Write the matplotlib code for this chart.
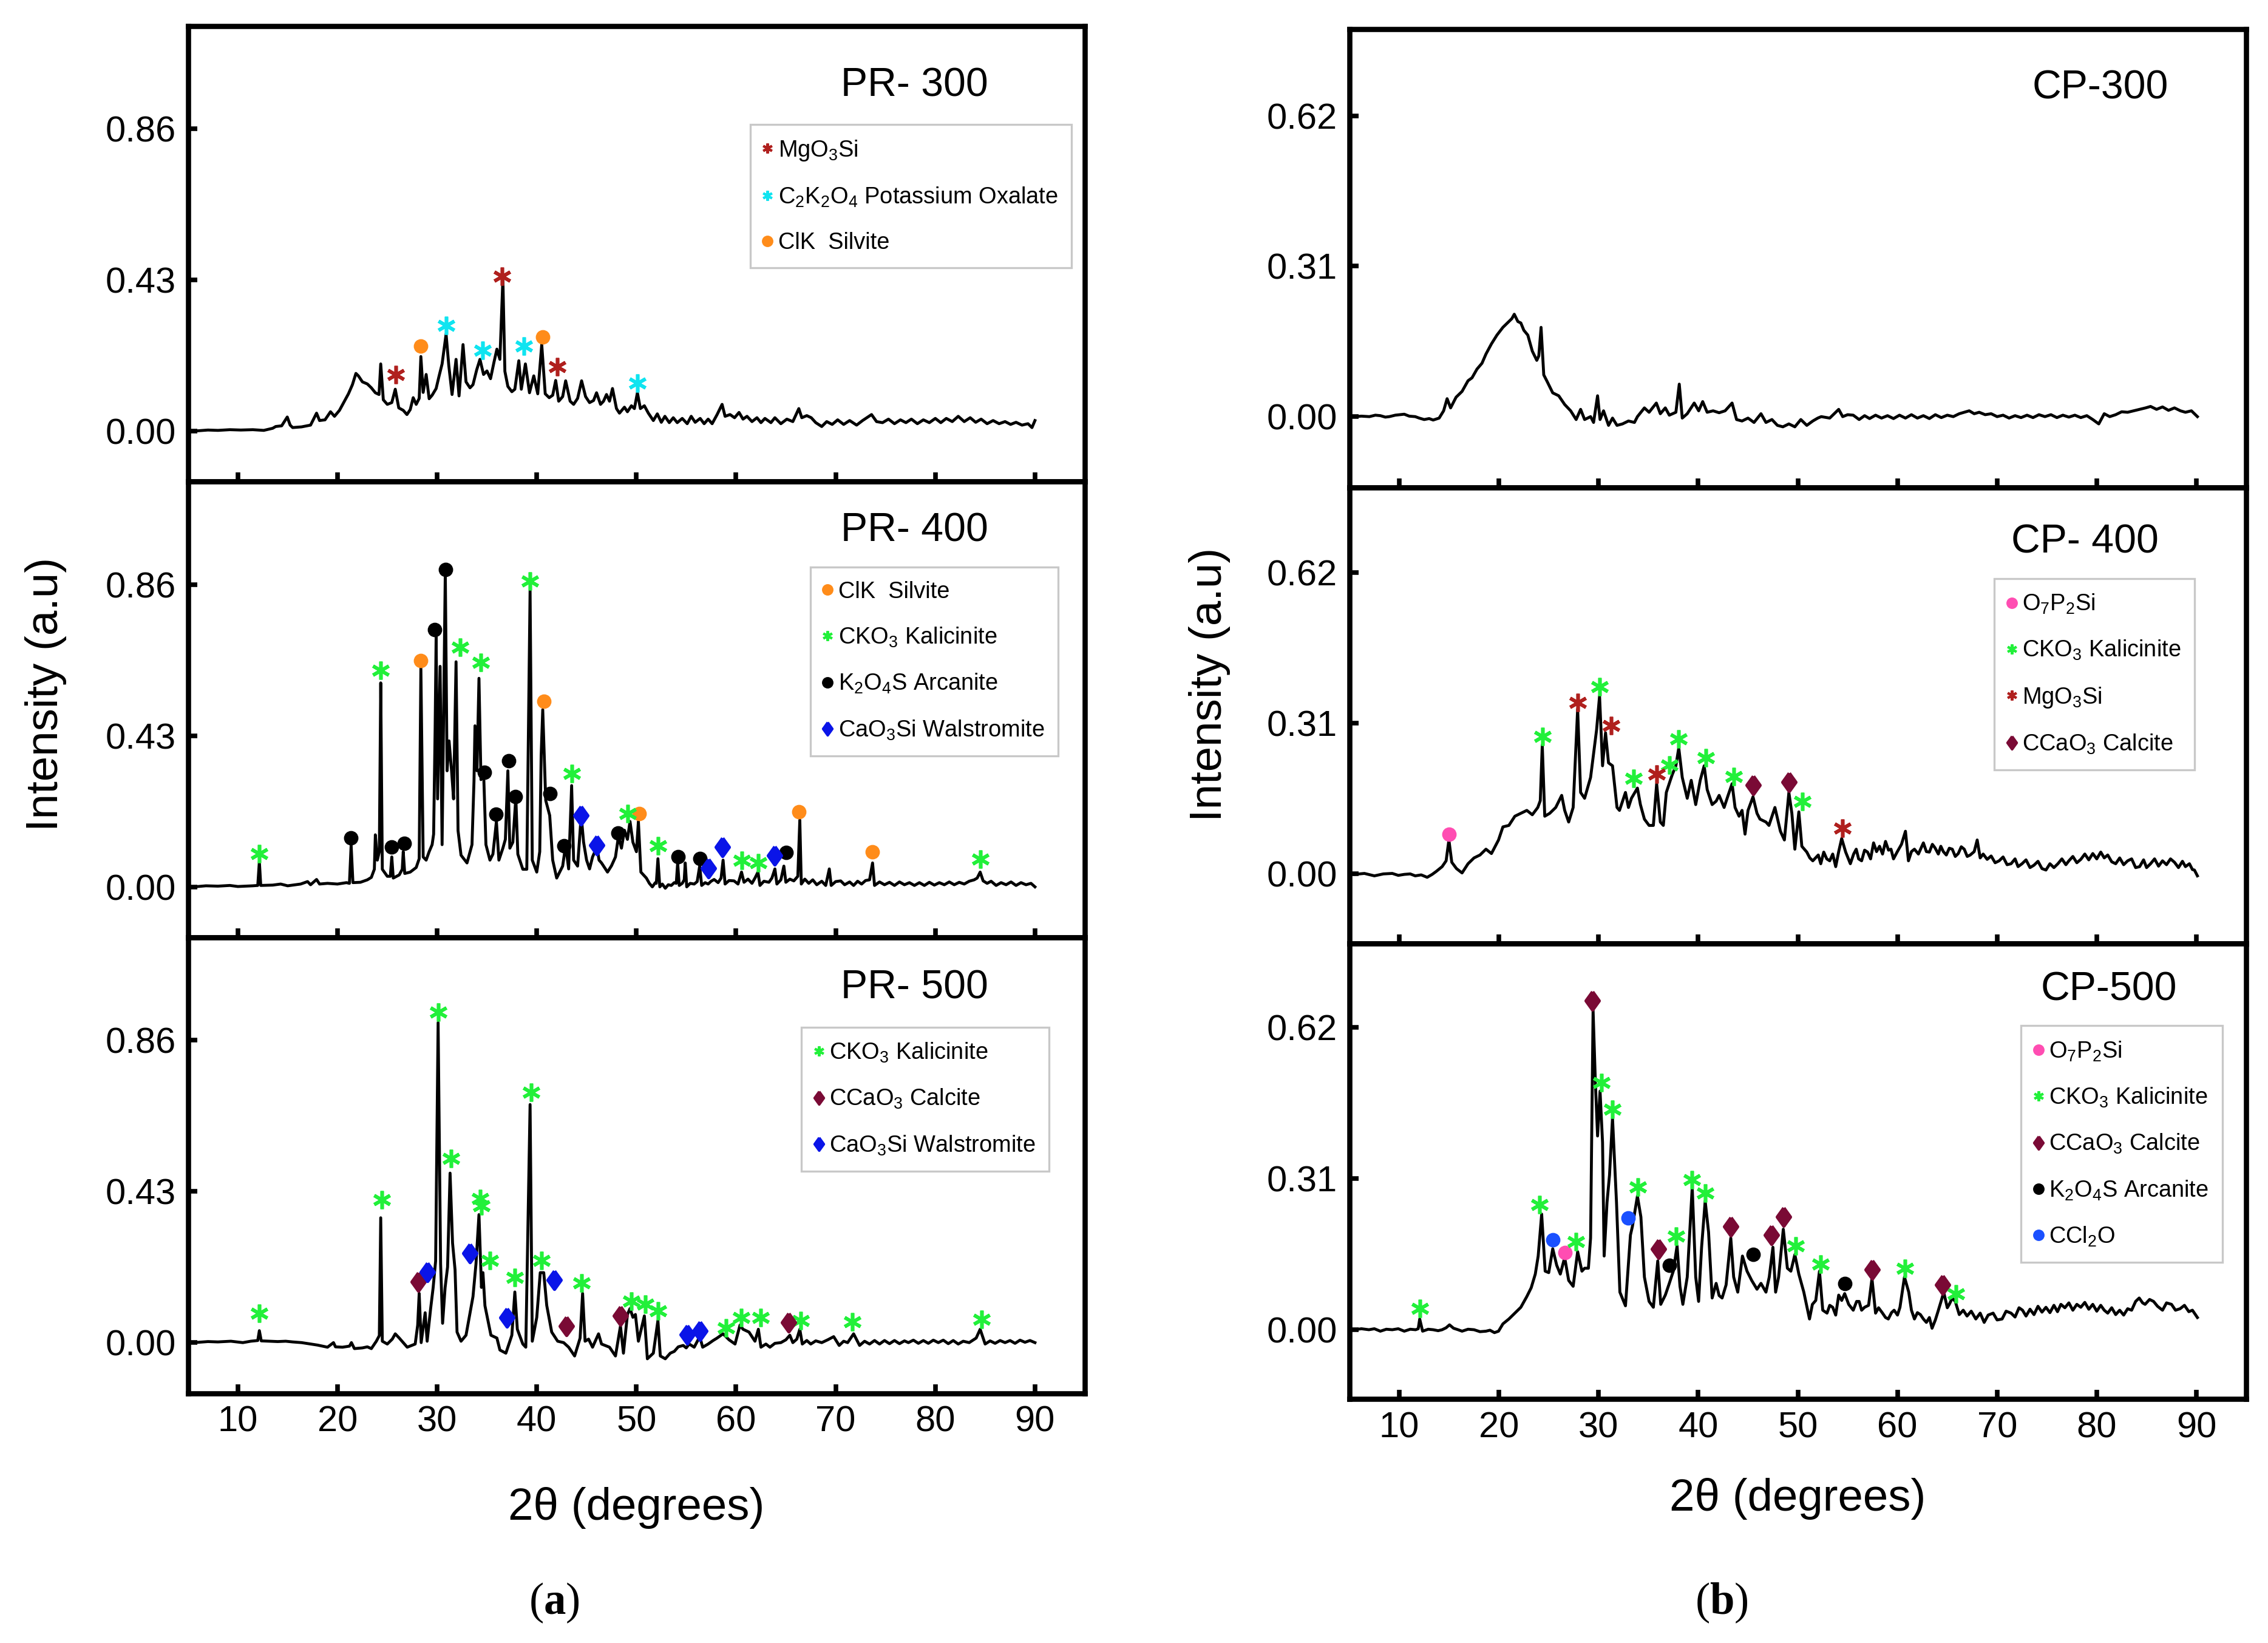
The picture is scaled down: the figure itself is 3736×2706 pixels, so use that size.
import matplotlib
matplotlib.use('Agg')
import matplotlib.pyplot as plt
from matplotlib.lines import Line2D

plt.rcParams['font.family'] = ['Liberation Sans', 'DejaVu Sans']
plt.rcParams['mathtext.fontset'] = 'custom'
plt.rcParams['mathtext.rm'] = 'Liberation Sans'
plt.rcParams['mathtext.it'] = 'Liberation Sans:italic'
plt.rcParams['mathtext.bf'] = 'Liberation Serif:bold'

# ---------------- data (2theta, intensity) ----------------
PR300 = [(5.6, 0.000), (7.0, 0.003), (8.0, 0.002), (9.2, 0.004), (10.3, 0.003), (11.5, 0.004), (12.6, 0.002),
         (13.5, 0.008), (13.8, 0.013), (14.4, 0.015), (14.96, 0.040), (15.25, 0.017), (15.5, 0.010), (16.4, 0.012),
         (17.3, 0.017), (17.9, 0.051), (18.2, 0.030), (18.75, 0.032), (19.3, 0.055), (19.7, 0.042), (20.2, 0.059),
         (20.7, 0.085), (21.1, 0.106), (21.5, 0.132), (21.85, 0.164), (22.1, 0.157), (22.5, 0.140), (23.0, 0.134),
         (23.4, 0.123), (23.8, 0.109), (24.17, 0.104), (24.34, 0.191), (24.6, 0.089), (25.0, 0.076), (25.45, 0.081),
         (25.8, 0.119), (26.15, 0.066), (26.6, 0.059), (26.97, 0.047), (27.3, 0.061), (27.6, 0.095), (27.9, 0.076),
         (28.2, 0.093), (28.37, 0.212), (28.6, 0.110), (28.9, 0.161), (29.2, 0.092), (29.5, 0.102), (29.9, 0.121),
         (30.2, 0.157), (30.5, 0.191), (30.9, 0.276), (31.17, 0.187), (31.5, 0.104), (31.9, 0.204), (32.2, 0.100),
         (32.6, 0.246), (32.9, 0.140), (33.3, 0.123), (33.6, 0.132), (33.97, 0.174), (34.3, 0.204), (34.66, 0.161),
         (35.0, 0.171), (35.36, 0.149), (35.7, 0.195), (36.0, 0.233), (36.3, 0.204), (36.6, 0.433), (36.8, 0.170),
         (37.1, 0.127), (37.5, 0.112), (37.8, 0.119), (38.2, 0.200), (38.45, 0.119), (38.86, 0.191), (39.27, 0.109),
         (39.7, 0.157), (40.1, 0.106), (40.5, 0.246), (40.85, 0.106), (41.25, 0.095), (41.6, 0.102), (41.9, 0.144),
         (42.2, 0.085), (42.6, 0.098), (42.9, 0.143), (43.35, 0.085), (43.7, 0.076), (44.1, 0.093), (44.5, 0.143),
         (44.9, 0.098), (45.3, 0.081), (45.7, 0.087), (46.0, 0.109), (46.4, 0.076), (46.7, 0.085), (47.0, 0.104),
         (47.3, 0.085), (47.6, 0.121), (48.0, 0.064), (48.3, 0.051), (48.8, 0.068), (49.1, 0.055), (49.5, 0.072),
         (49.8, 0.064), (50.1, 0.109), (50.4, 0.064), (50.8, 0.072), (51.2, 0.051), (51.7, 0.030), (52.1, 0.049),
         (52.5, 0.025), (52.86, 0.042), (53.3, 0.024), (53.7, 0.038), (54.1, 0.024), (54.6, 0.036), (55.1, 0.021),
         (55.5, 0.042), (55.9, 0.025), (56.4, 0.036), (56.8, 0.021), (57.2, 0.034), (57.6, 0.021), (58.1, 0.047),
         (58.6, 0.076), (58.9, 0.042), (59.4, 0.047), (59.85, 0.038), (60.3, 0.053), (60.7, 0.034), (61.1, 0.042),
         (61.6, 0.027), (62.1, 0.038), (62.5, 0.024), (62.9, 0.036), (63.5, 0.024), (63.9, 0.038), (64.5, 0.021),
         (65.1, 0.034), (65.7, 0.027), (66.3, 0.064), (66.6, 0.038), (67.1, 0.044), (67.55, 0.038), (68.0, 0.024),
         (68.6, 0.013), (69.1, 0.027), (69.65, 0.019), (70.2, 0.032), (70.8, 0.019), (71.4, 0.030), (72.1, 0.017),
         (72.7, 0.030), (73.6, 0.047), (74.1, 0.027), (74.7, 0.024), (75.3, 0.034), (75.9, 0.021), (76.5, 0.032),
         (77.05, 0.024), (77.6, 0.034), (78.2, 0.021), (78.8, 0.032), (79.4, 0.024), (80.0, 0.036), (80.55, 0.024),
         (81.1, 0.036), (81.7, 0.027), (82.3, 0.042), (82.9, 0.027), (83.5, 0.038), (84.05, 0.025), (84.6, 0.034),
         (85.2, 0.021), (85.8, 0.030), (86.4, 0.021), (87.0, 0.027), (87.55, 0.019), (88.1, 0.025), (88.7, 0.017),
         (89.3, 0.021), (89.7, 0.010), (90.0, 0.030)]

PR400 = [(5.6, 0.000), (6.8, 0.003), (8.0, 0.002), (9.2, 0.004), (10.0, 0.001), (11.5, 0.003), (12.0, 0.004),
         (12.16, 0.072), (12.3, 0.004), (13.5, 0.005), (14.3, 0.008), (15.0, 0.003), (16.3, 0.008), (17.0, 0.015),
         (17.3, 0.006), (17.9, 0.021), (18.2, 0.008), (19.0, 0.010), (20.0, 0.008), (20.9, 0.012), (21.2, 0.010),
         (21.37, 0.119), (21.55, 0.012), (22.3, 0.013), (23.0, 0.020), (23.4, 0.027), (23.7, 0.050), (23.8, 0.148),
         (24.0, 0.076), (24.2, 0.100), (24.34, 0.580), (24.5, 0.050), (25.0, 0.030), (25.3, 0.030), (25.45, 0.085),
         (25.6, 0.025), (26.2, 0.034), (26.5, 0.050), (26.6, 0.100), (26.75, 0.038), (27.3, 0.042), (27.9, 0.055),
         (28.2, 0.080), (28.37, 0.623), (28.6, 0.085), (28.9, 0.076), (29.2, 0.100), (29.5, 0.120), (29.65, 0.150),
         (29.8, 0.450), (29.9, 0.712), (30.05, 0.250), (30.15, 0.400), (30.3, 0.627), (30.5, 0.120), (30.82, 0.898),
         (31.0, 0.330), (31.2, 0.415), (31.45, 0.330), (31.65, 0.250), (31.9, 0.640), (32.1, 0.160), (32.4, 0.090),
         (33.0, 0.068), (33.5, 0.120), (33.7, 0.300), (33.8, 0.458), (34.0, 0.330), (34.2, 0.593), (34.4, 0.305),
         (34.66, 0.330), (34.9, 0.120), (35.3, 0.076), (35.6, 0.093), (35.95, 0.186), (36.2, 0.076), (36.6, 0.110),
         (36.85, 0.135), (37.1, 0.330), (37.3, 0.110), (37.6, 0.127), (37.9, 0.254), (38.1, 0.093), (38.6, 0.050),
         (39.0, 0.050), (39.33, 0.843), (39.55, 0.076), (40.0, 0.042), (40.3, 0.100), (40.44, 0.373), (40.6, 0.504),
         (40.9, 0.246), (41.3, 0.203), (41.6, 0.076), (42.0, 0.025), (42.6, 0.059), (42.9, 0.119), (43.2, 0.051),
         (43.5, 0.288), (43.7, 0.076), (44.1, 0.059), (44.46, 0.203), (44.7, 0.127), (45.0, 0.076), (45.3, 0.051),
         (45.6, 0.085), (46.04, 0.114), (46.25, 0.076), (46.5, 0.068), (47.1, 0.042), (47.5, 0.060), (47.9, 0.085),
         (48.2, 0.144), (48.5, 0.110), (48.8, 0.161), (49.1, 0.135), (49.36, 0.186), (49.65, 0.127), (50.0, 0.100),
         (50.2, 0.186), (50.45, 0.042), (51.0, 0.025), (51.3, 0.010), (51.6, 0.000), (51.9, 0.012), (52.0, 0.010),
         (52.16, 0.080), (52.35, 0.000), (52.6, 0.008), (52.9, -0.004), (53.2, 0.006), (53.5, 0.004), (53.8, 0.012),
         (54.0, 0.010), (54.14, 0.068), (54.3, 0.004), (54.6, 0.010), (54.8, 0.020), (54.9, 0.068), (55.05, 0.000),
         (55.4, 0.010), (55.8, 0.008), (56.1, 0.015), (56.35, 0.059), (56.55, 0.004), (56.9, 0.012), (57.2, 0.008),
         (57.5, 0.016), (57.8, 0.021), (58.2, 0.012), (58.5, 0.025), (58.7, 0.076), (58.9, 0.008), (59.3, 0.018),
         (59.8, 0.017), (60.2, 0.008), (60.55, 0.042), (60.8, 0.013), (61.2, 0.022), (61.6, 0.010), (61.9, 0.025),
         (62.2, 0.042), (62.4, 0.004), (62.8, 0.016), (63.3, 0.013), (63.6, 0.025), (63.9, 0.051), (64.1, 0.008),
         (64.5, 0.020), (64.8, 0.059), (65.0, 0.013), (65.4, 0.022), (65.8, 0.017), (66.2, 0.030), (66.4, 0.190),
         (66.55, 0.008), (66.9, 0.022), (67.3, 0.010), (67.7, 0.020), (68.1, 0.006), (68.6, 0.016), (69.0, 0.004),
         (69.36, 0.051), (69.55, 0.004), (70.0, 0.015), (70.5, 0.017), (70.9, 0.006), (71.4, 0.014), (71.8, 0.004),
         (72.2, 0.016), (72.6, 0.008), (73.0, 0.018), (73.4, 0.020), (73.7, 0.068), (73.9, 0.004), (74.4, 0.014),
         (74.9, 0.006), (75.4, 0.013), (75.9, 0.004), (76.4, 0.014), (76.9, 0.006), (77.4, 0.012), (77.9, 0.004),
         (78.4, 0.012), (78.9, 0.004), (79.4, 0.013), (79.9, 0.005), (80.4, 0.012), (80.9, 0.006), (81.4, 0.014),
         (81.9, 0.006), (82.4, 0.013), (82.9, 0.008), (83.4, 0.016), (83.9, 0.020), (84.2, 0.025), (84.5, 0.042),
         (84.8, 0.017), (85.2, 0.010), (85.6, 0.016), (86.1, 0.004), (86.6, 0.012), (87.1, 0.006), (87.6, 0.014),
         (88.1, 0.004), (88.6, 0.012), (89.1, 0.006), (89.6, 0.010), (90.0, 0.000)]

PR500 = [(5.6, 0.000), (7.0, 0.003), (8.0, 0.002), (9.3, 0.004), (10.5, 0.000), (11.3, 0.004), (12.0, 0.006),
         (12.16, 0.034), (12.35, 0.005), (13.2, 0.004), (14.0, 0.003), (14.8, 0.004), (15.5, 0.002), (16.4, 0.000),
         (17.3, -0.004), (18.0, -0.007), (18.5, -0.010), (19.0, -0.013), (19.6, 0.000), (19.8, -0.012), (20.5, -0.013),
         (21.2, -0.010), (21.4, 0.000), (21.7, -0.017), (22.5, -0.015), (23.0, -0.012), (23.4, -0.017), (23.9, 0.004),
         (24.2, 0.020), (24.34, 0.355), (24.5, 0.004), (25.0, -0.004), (25.5, 0.010), (25.8, 0.025), (26.2, 0.013),
         (27.0, -0.013), (27.8, -0.004), (28.05, 0.050), (28.2, 0.140), (28.4, 0.000), (28.8, 0.085), (29.0, 0.004),
         (29.35, 0.097), (29.6, 0.156), (29.85, 0.232), (30.1, 0.910), (30.35, 0.224), (30.55, 0.055), (30.8, 0.156),
         (31.05, 0.215), (31.3, 0.482), (31.55, 0.283), (31.8, 0.207), (32.0, 0.030), (32.4, 0.004), (32.9, 0.021),
         (33.6, 0.131), (33.9, 0.224), (34.2, 0.364), (34.45, 0.157), (34.6, 0.199), (34.8, 0.105), (35.4, 0.021),
         (36.0, 0.013), (36.3, -0.021), (36.9, -0.030), (37.5, 0.021), (37.8, 0.144), (38.05, 0.038), (38.6, -0.004),
         (38.9, -0.013), (39.33, 0.677), (39.55, 0.004), (40.0, 0.072), (40.35, 0.199), (40.7, 0.199), (41.0, 0.106),
         (41.5, 0.030), (42.1, 0.004), (42.7, 0.000), (43.2, -0.013), (43.8, -0.038), (44.35, 0.013), (44.6, 0.140),
         (44.85, 0.004), (45.2, 0.010), (45.6, -0.013), (46.2, 0.025), (46.5, -0.004), (47.3, -0.013), (47.9, -0.038),
         (48.4, 0.047), (48.7, -0.030), (49.1, 0.080), (49.36, 0.097), (49.65, 0.072), (49.9, 0.080), (50.2, 0.004),
         (50.8, 0.076), (51.1, -0.046), (51.7, -0.030), (52.16, 0.063), (52.4, -0.038), (52.9, -0.046), (53.4, -0.030),
         (53.8, -0.025), (54.2, -0.012), (54.7, -0.008), (55.0, -0.015), (55.3, -0.004), (55.8, -0.013), (56.36, 0.017),
         (56.65, -0.013), (57.2, -0.004), (57.7, 0.006), (58.1, 0.013), (58.7, 0.025), (59.3, 0.008), (59.9, -0.004),
         (60.4, 0.050), (60.7, 0.038), (61.3, 0.030), (61.9, 0.004), (62.24, 0.038), (62.5, -0.013), (63.0, -0.004),
         (63.4, -0.013), (63.9, -0.002), (64.5, 0.000), (65.0, 0.008), (65.4, 0.021), (65.7, 0.000), (66.1, 0.010),
         (66.4, 0.038), (66.65, -0.004), (67.1, 0.006), (67.5, -0.004), (68.0, 0.005), (68.6, 0.000), (69.2, 0.008),
         (69.8, 0.017), (70.35, -0.008), (70.8, 0.004), (71.2, 0.000), (71.8, 0.025), (72.4, -0.008), (72.9, 0.004),
         (73.4, -0.004), (73.9, 0.006), (74.4, -0.004), (74.9, 0.006), (75.4, -0.003), (75.9, 0.006), (76.4, -0.003),
         (76.9, 0.005), (77.3, 0.000), (77.8, 0.007), (78.3, -0.002), (78.8, 0.006), (79.3, -0.002), (79.8, 0.007),
         (80.3, 0.000), (80.8, 0.007), (81.3, -0.003), (81.8, 0.006), (82.3, -0.004), (82.8, 0.004), (83.4, 0.000),
         (84.1, 0.013), (84.5, 0.038), (85.0, -0.004), (85.5, 0.005), (86.0, -0.002), (86.5, 0.006), (87.0, 0.000),
         (87.5, 0.006), (88.0, -0.002), (88.5, 0.007), (89.0, 0.001), (89.5, 0.006), (90.0, 0.000)]

CP300 = [(5.5, 0.000), (6.2, 0.001), (7.0, 0.000), (7.6, 0.003), (8.1, 0.002), (8.6, -0.001), (9.0, 0.000),
         (9.6, 0.003), (10.5, 0.005), (11.0, 0.001), (11.6, 0.000), (12.0, -0.003), (12.5, -0.006), (13.0, -0.004),
         (13.4, -0.007), (14.0, -0.003), (14.45, 0.012), (14.8, 0.037), (15.15, 0.018), (15.7, 0.040), (16.3, 0.052),
         (16.9, 0.074), (17.3, 0.080), (17.8, 0.098), (18.3, 0.110), (18.7, 0.129), (19.25, 0.150), (19.8, 0.168),
         (20.4, 0.184), (21.0, 0.196), (21.3, 0.202), (21.54, 0.211), (21.9, 0.196), (22.2, 0.193), (22.5, 0.178),
         (22.9, 0.168), (23.35, 0.135), (23.8, 0.116), (24.0, 0.125), (24.23, 0.184), (24.5, 0.086), (24.8, 0.074),
         (25.4, 0.049), (26.0, 0.043), (26.6, 0.025), (27.2, 0.012), (27.75, -0.006), (28.2, 0.015), (28.6, -0.006),
         (29.2, 0.000), (29.5, -0.012), (29.9, 0.043), (30.15, -0.006), (30.5, 0.012), (31.0, -0.018), (31.4, -0.003),
         (31.85, -0.018), (32.4, -0.015), (33.0, -0.009), (33.6, -0.012), (33.9, 0.000), (34.6, 0.018), (35.07, 0.009),
         (35.8, 0.028), (36.2, 0.006), (36.7, 0.018), (37.1, 0.003), (37.76, 0.009), (38.1, 0.067), (38.4, -0.003),
         (38.9, 0.006), (39.6, 0.028), (40.05, 0.012), (40.45, 0.031), (40.9, 0.009), (41.5, 0.012), (42.1, 0.008),
         (42.7, 0.012), (43.4, 0.028), (43.85, -0.006), (44.4, -0.009), (45.0, -0.003), (45.6, -0.012), (46.3, 0.006),
         (46.8, -0.012), (47.4, -0.006), (47.95, -0.018), (48.5, -0.021), (49.1, -0.015), (49.7, -0.021), (50.3, -0.006),
         (50.9, -0.018), (51.5, -0.009), (52.0, -0.003), (52.35, 0.000), (53.2, -0.003), (54.1, 0.015), (54.5, 0.000),
         (55.0, 0.004), (55.56, 0.003), (56.15, -0.006), (56.7, 0.002), (57.2, -0.004), (57.8, 0.003), (58.4, -0.003),
         (59.0, 0.002), (59.6, -0.004), (60.2, 0.003), (60.8, -0.003), (61.4, 0.004), (62.0, -0.003), (62.6, 0.002),
         (63.2, -0.004), (63.8, 0.004), (64.4, -0.002), (65.0, 0.003), (65.6, 0.000), (66.2, 0.006), (66.7, 0.009),
         (67.2, 0.012), (67.7, 0.006), (68.2, 0.009), (68.8, 0.004), (69.4, 0.006), (70.0, 0.000), (70.6, 0.003),
         (71.2, -0.003), (71.8, 0.002), (72.4, -0.002), (73.0, 0.003), (73.6, -0.002), (74.2, 0.004), (74.8, 0.000),
         (75.4, 0.004), (76.0, -0.002), (76.6, 0.003), (77.2, -0.001), (77.8, 0.003), (78.4, -0.002), (79.0, 0.002),
         (79.6, -0.006), (80.2, -0.015), (80.75, 0.006), (81.3, 0.000), (81.9, 0.004), (82.5, 0.010), (83.1, 0.009),
         (83.7, 0.012), (84.3, 0.015), (84.9, 0.018), (85.4, 0.021), (86.0, 0.015), (86.6, 0.020), (87.2, 0.013),
         (87.8, 0.018), (88.4, 0.012), (88.9, 0.009), (89.5, 0.012), (90.1, 0.000)]

CP400 = [(5.5, -0.002), (6.5, 0.000), (7.5, -0.005), (8.4, -0.001), (9.3, 0.000), (9.9, -0.004), (10.5, -0.002),
         (11.1, -0.001), (11.6, -0.005), (12.2, -0.003), (12.8, -0.008), (13.3, -0.002), (13.7, 0.004), (14.3, 0.014),
         (14.7, 0.026), (14.98, 0.069), (15.27, 0.023), (15.74, 0.010), (16.3, 0.001), (16.9, 0.020), (17.5, 0.032),
         (18.1, 0.038), (18.7, 0.050), (19.25, 0.041), (19.96, 0.069), (20.4, 0.096), (21.0, 0.099), (21.6, 0.118),
         (22.2, 0.124), (22.8, 0.130), (23.35, 0.121), (23.9, 0.136), (24.15, 0.150), (24.35, 0.265), (24.6, 0.118),
         (25.1, 0.124), (25.7, 0.136), (26.3, 0.161), (26.6, 0.130), (27.0, 0.106), (27.45, 0.136), (27.9, 0.339),
         (28.2, 0.167), (28.6, 0.155), (29.2, 0.198), (29.8, 0.296), (30.1, 0.366), (30.4, 0.222), (30.7, 0.290),
         (31.0, 0.228), (31.4, 0.222), (31.85, 0.136), (32.1, 0.130), (32.7, 0.167), (33.0, 0.136), (33.3, 0.155),
         (33.9, 0.176), (34.2, 0.142), (34.6, 0.112), (35.07, 0.099), (35.5, 0.099), (35.83, 0.185), (36.2, 0.106),
         (36.5, 0.099), (36.8, 0.167), (37.2, 0.192), (37.4, 0.204), (37.76, 0.222), (38.05, 0.259), (38.4, 0.198),
         (38.9, 0.155), (39.3, 0.192), (39.75, 0.142), (40.2, 0.192), (40.6, 0.222), (40.9, 0.173), (41.4, 0.142),
         (41.8, 0.149), (42.1, 0.161), (42.6, 0.136), (43.0, 0.161), (43.4, 0.185), (43.7, 0.136), (44.1, 0.118),
         (44.4, 0.130), (44.7, 0.081), (45.0, 0.130), (45.5, 0.158), (45.9, 0.124), (46.2, 0.112), (46.8, 0.106),
         (47.1, 0.099), (47.7, 0.136), (48.25, 0.087), (48.65, 0.069), (49.1, 0.167), (49.4, 0.124), (49.7, 0.050),
         (50.1, 0.127), (50.4, 0.056), (50.9, 0.044), (51.2, 0.032), (51.5, 0.026), (52.05, 0.038), (52.3, 0.020),
         (52.6, 0.044), (52.9, 0.030), (53.2, 0.026), (53.5, 0.040), (53.8, 0.014), (54.1, 0.045), (54.4, 0.072),
         (54.8, 0.044), (55.27, 0.020), (55.6, 0.040), (55.86, 0.050), (56.1, 0.030), (56.4, 0.026), (56.7, 0.048),
         (57.0, 0.044), (57.3, 0.030), (57.6, 0.063), (57.9, 0.045), (58.2, 0.056), (58.5, 0.040), (58.8, 0.066),
         (59.1, 0.048), (59.35, 0.050), (59.6, 0.030), (59.96, 0.044), (60.4, 0.060), (60.8, 0.087), (61.1, 0.026),
         (61.4, 0.045), (61.7, 0.050), (62.1, 0.040), (62.6, 0.063), (62.9, 0.045), (63.2, 0.044), (63.5, 0.060),
         (63.76, 0.053), (64.1, 0.040), (64.35, 0.056), (64.6, 0.045), (64.9, 0.038), (65.2, 0.052), (65.5, 0.050),
         (65.8, 0.035), (66.1, 0.041), (66.4, 0.055), (66.7, 0.050), (67.0, 0.035), (67.3, 0.038), (67.7, 0.045),
         (68.0, 0.069), (68.3, 0.032), (68.6, 0.040), (69.0, 0.029), (69.4, 0.036), (69.8, 0.022), (70.2, 0.026),
         (70.6, 0.034), (71.0, 0.018), (71.4, 0.020), (71.8, 0.030), (72.1, 0.014), (72.5, 0.020), (72.9, 0.028),
         (73.3, 0.012), (73.7, 0.017), (74.1, 0.025), (74.5, 0.010), (74.9, 0.007), (75.3, 0.020), (75.7, 0.012),
         (76.1, 0.020), (76.5, 0.030), (76.9, 0.018), (77.2, 0.026), (77.6, 0.035), (78.0, 0.022), (78.4, 0.029),
         (78.8, 0.040), (79.2, 0.028), (79.6, 0.041), (80.0, 0.030), (80.4, 0.044), (80.75, 0.032), (81.1, 0.038),
         (81.5, 0.024), (81.9, 0.020), (82.3, 0.032), (82.7, 0.018), (83.1, 0.026), (83.5, 0.030), (83.9, 0.012),
         (84.3, 0.014), (84.7, 0.028), (85.0, 0.012), (85.4, 0.020), (85.8, 0.030), (86.2, 0.015), (86.6, 0.026),
         (87.0, 0.018), (87.4, 0.030), (87.8, 0.023), (88.2, 0.012), (88.6, 0.025), (88.9, 0.014), (89.3, 0.020),
         (89.6, 0.008), (89.8, 0.007), (90.1, -0.005)]

CP500 = [(5.5, 0.000), (6.2, 0.002), (6.95, 0.000), (7.5, 0.002), (8.1, -0.003), (8.7, 0.001), (9.3, 0.000),
         (9.9, 0.002), (10.5, -0.003), (11.1, 0.001), (11.64, 0.000), (11.9, 0.002), (12.05, 0.022), (12.34, -0.003),
         (12.9, 0.001), (13.4, 0.000), (13.9, -0.002), (14.3, 0.000), (14.7, 0.004), (15.04, 0.010), (15.45, 0.003),
         (15.9, 0.000), (16.3, -0.003), (16.9, 0.001), (17.5, 0.000), (18.1, -0.004), (18.7, -0.003), (19.1, -0.001),
         (19.55, -0.006), (19.96, -0.003), (20.4, 0.012), (21.0, 0.022), (21.6, 0.034), (22.2, 0.046), (22.8, 0.068),
         (23.24, 0.086), (23.65, 0.114), (23.94, 0.151), (24.29, 0.237), (24.64, 0.120), (25.0, 0.117), (25.4, 0.166),
         (25.8, 0.132), (26.16, 0.114), (26.6, 0.148), (27.0, 0.101), (27.45, 0.089), (27.9, 0.160), (28.33, 0.120),
         (28.6, 0.126), (28.98, 0.126), (29.2, 0.188), (29.45, 0.655), (29.68, 0.507), (29.9, 0.397), (30.15, 0.489),
         (30.4, 0.384), (30.56, 0.151), (30.85, 0.261), (31.1, 0.317), (31.4, 0.434), (31.8, 0.261), (32.14, 0.077),
         (32.7, 0.049), (33.2, 0.194), (33.4, 0.212), (33.9, 0.274), (34.25, 0.231), (34.6, 0.108), (35.07, 0.058),
         (35.5, 0.046), (35.94, 0.141), (36.24, 0.052), (36.7, 0.071), (37.1, 0.095), (37.5, 0.120), (37.88, 0.172),
         (38.17, 0.089), (38.46, 0.052), (38.9, 0.108), (39.4, 0.292), (39.75, 0.108), (40.04, 0.058), (40.34, 0.169),
         (40.7, 0.264), (41.04, 0.200), (41.4, 0.065), (41.8, 0.095), (42.1, 0.070), (42.4, 0.065), (42.8, 0.092),
         (43.27, 0.188), (43.56, 0.108), (43.97, 0.077), (44.44, 0.151), (44.9, 0.120), (45.37, 0.101), (45.9, 0.083),
         (46.3, 0.095), (46.8, 0.077), (47.13, 0.108), (47.5, 0.169), (47.77, 0.077), (48.07, 0.108), (48.54, 0.206),
         (48.95, 0.126), (49.3, 0.120), (49.7, 0.154), (50.1, 0.114), (50.6, 0.077), (51.17, 0.022), (51.46, 0.052),
         (51.8, 0.060), (52.17, 0.120), (52.5, 0.040), (52.93, 0.034), (53.2, 0.050), (53.5, 0.046), (53.8, 0.030),
         (54.1, 0.071), (54.4, 0.060), (54.7, 0.074), (55.1, 0.052), (55.56, 0.040), (55.9, 0.058), (56.15, 0.058),
         (56.4, 0.040), (56.7, 0.046), (57.1, 0.050), (57.44, 0.105), (57.8, 0.034), (58.1, 0.045), (58.5, 0.034),
         (58.8, 0.025), (59.08, 0.022), (59.4, 0.035), (59.66, 0.040), (60.0, 0.030), (60.25, 0.046), (60.7, 0.108),
         (61.13, 0.077), (61.4, 0.040), (61.7, 0.022), (62.0, 0.035), (62.3, 0.031), (62.6, 0.022), (62.9, 0.015),
         (63.2, 0.025), (63.47, 0.003), (63.8, 0.020), (64.06, 0.037), (64.4, 0.060), (64.64, 0.077), (65.0, 0.045),
         (65.2, 0.052), (65.5, 0.065), (65.8, 0.058), (66.2, 0.031), (66.6, 0.040), (66.98, 0.028), (67.4, 0.038),
         (67.86, 0.022), (68.3, 0.034), (68.7, 0.015), (69.1, 0.030), (69.6, 0.034), (70.0, 0.020), (70.5, 0.022),
         (70.9, 0.038), (71.4, 0.034), (71.8, 0.026), (72.2, 0.045), (72.55, 0.040), (72.9, 0.028), (73.3, 0.042),
         (73.7, 0.031), (74.1, 0.048), (74.5, 0.036), (74.9, 0.046), (75.3, 0.035), (75.7, 0.050), (76.06, 0.037),
         (76.4, 0.052), (76.8, 0.045), (77.2, 0.055), (77.6, 0.040), (78.0, 0.052), (78.4, 0.046), (78.8, 0.056),
         (79.2, 0.042), (79.6, 0.052), (80.0, 0.038), (80.4, 0.050), (80.75, 0.040), (81.1, 0.034), (81.5, 0.045),
         (81.9, 0.031), (82.3, 0.040), (82.7, 0.030), (83.1, 0.043), (83.5, 0.040), (83.9, 0.058), (84.26, 0.065),
         (84.6, 0.055), (84.85, 0.052), (85.3, 0.062), (85.7, 0.058), (86.1, 0.048), (86.6, 0.040), (87.0, 0.055),
         (87.5, 0.052), (87.9, 0.040), (88.36, 0.043), (88.8, 0.050), (89.24, 0.037), (89.6, 0.040), (90.1, 0.025)]

# phase labels (peak marks, 2theta and height of the symbol)
PR300_MARKS = {
    'MgO3Si': [(25.86, 0.161), (36.5, 0.440), (42.07, 0.183)],
    'C2K2O4': [(30.9, 0.300), (34.55, 0.229), (38.7, 0.242), (50.1, 0.137)],
    'ClK': [(28.37, 0.242), (40.6, 0.267)],
}
PR400_MARKS = {
    'ClK': [(28.37, 0.644), (40.73, 0.528), (50.3, 0.208), (66.33, 0.214), (73.67, 0.099)],
    'CKO3': [(12.16, 0.095), (24.34, 0.616), (32.33, 0.682), (34.37, 0.638), (39.33, 0.869), (43.53, 0.322),
             (49.13, 0.209), (52.16, 0.117), (60.6, 0.075), (62.24, 0.068), (84.5, 0.078)],
    'K2O4S': [(21.37, 0.140), (25.45, 0.114), (26.68, 0.124), (29.77, 0.731), (30.82, 0.903), (34.72, 0.325),
              (35.89, 0.206), (37.17, 0.359), (37.87, 0.256), (41.3, 0.265), (42.7, 0.117), (48.13, 0.153),
              (54.2, 0.086), (56.36, 0.080), (65.04, 0.097)],
    'CaO3Si': [(44.46, 0.203), (46.04, 0.119), (57.23, 0.053), (58.63, 0.114), (63.88, 0.089)],
}
PR500_MARKS = {
    'CKO3': [(12.16, 0.083), (24.46, 0.406), (30.12, 0.939), (31.4, 0.524), (34.3, 0.410), (34.43, 0.389),
             (35.3, 0.233), (37.8, 0.186), (39.45, 0.712), (40.5, 0.234), (44.5, 0.169), (49.47, 0.118),
             (50.87, 0.110), (52.16, 0.091), (58.98, 0.042), (60.5, 0.072), (62.48, 0.072), (66.5, 0.063),
             (71.7, 0.059), (84.64, 0.066)],
    'CCaO3': [(28.13, 0.173), (43.0, 0.047), (48.37, 0.076), (65.28, 0.057)],
    'CaO3Si': [(29.0, 0.201), (33.27, 0.254), (37.0, 0.072), (41.78, 0.178), (55.07, 0.023), (56.36, 0.034)],
}
CP300_MARKS = {}
CP400_MARKS = {
    'O7P2Si': [(14.98, 0.081)],
    'CKO3': [(24.4, 0.282), (30.09, 0.385), (33.54, 0.196), (37.1, 0.223), (38.05, 0.277), (40.75, 0.239),
             (43.56, 0.200), (50.47, 0.149)],
    'MgO3Si': [(27.92, 0.353), (31.26, 0.305), (35.83, 0.205), (54.5, 0.093)],
    'CCaO3': [(45.5, 0.182), (49.12, 0.188)],
}
CP500_MARKS = {
    'O7P2Si': [(26.63, 0.158)],
    'CKO3': [(12.05, 0.044), (24.1, 0.256), (27.75, 0.180), (30.27, 0.507), (31.38, 0.452), (33.95, 0.293),
             (37.8, 0.192), (39.34, 0.307), (40.69, 0.280), (49.77, 0.172), (52.28, 0.135), (60.78, 0.126),
             (65.87, 0.073)],
    'CCaO3': [(29.4, 0.675), (36.0, 0.165), (43.27, 0.211), (47.36, 0.194), (48.54, 0.232), (57.44, 0.123),
              (64.52, 0.092)],
    'K2O4S': [(37.1, 0.132), (45.55, 0.154), (54.7, 0.095)],
    'CCl2O': [(25.4, 0.184), (32.96, 0.229)],
}

PR_YTICKS = [0.0, 0.43, 0.86]
CP_YTICKS = [0.0, 0.31, 0.62]
XTICKS = [10, 20, 30, 40, 50, 60, 70, 80, 90]

# ---------------- styles ----------------
S = r'$_\mathregular{%s}$'
STAR = (6, 2, 0)
DIAM = [(0, 1), (0.72, 0), (0, -1), (-0.72, 0), (0, 1)]
PHASES = {
    'MgO3Si': dict(label='MgO' + S % 3 + 'Si', marker=STAR, color='#b0201e', ms=9, lms=5),
    'C2K2O4': dict(label='C' + S % 2 + 'K' + S % 2 + 'O' + S % 4 + ' Potassium Oxalate', marker=STAR,
                   color='#10e4f0', ms=9, lms=5),
    'ClK': dict(label='ClK  Silvite', marker='o', color='#ff8c1a', ms=5.5, lms=4.5),
    'CKO3': dict(label='CKO' + S % 3 + ' Kalicinite', marker=STAR, color='#22f03a', ms=9, lms=5),
    'K2O4S': dict(label='K' + S % 2 + 'O' + S % 4 + 'S Arcanite', marker='o', color='black', ms=5.5, lms=4.5),
    'CaO3Si': dict(label='CaO' + S % 3 + 'Si Walstromite', marker=DIAM, color='#0a14e8', ms=9, lms=6.5),
    'CCaO3': dict(label='CCaO' + S % 3 + ' Calcite', marker=DIAM, color='#7a0a35', ms=9, lms=6.5),
    'O7P2Si': dict(label='O' + S % 7 + 'P' + S % 2 + 'Si', marker='o', color='#ff4db2', ms=5.5, lms=4.5),
    'CCl2O': dict(label='CCl' + S % 2 + 'O', marker='o', color='#1a50ff', ms=5.5, lms=4.5),
}

W, H, DPI = 3736, 2706, 238.27
fig = plt.figure(figsize=(W / DPI, H / DPI), dpi=DPI)

# panel: (data, marks, title, title pos, legend order, legend anchor, rect, ylim, yticks, bottom?)
panels = [
    (PR300, PR300_MARKS, 'PR- 300', (0.81, 0.868), ['MgO3Si', 'C2K2O4', 'ClK'], (0.627, 0.784),
     [0.0829, 0.7068, 0.3954, 0.2774], (-0.144, 1.152), PR_YTICKS, False),
    (PR400, PR400_MARKS, 'PR- 400', (0.81, 0.892), ['ClK', 'CKO3', 'K2O4S', 'CaO3Si'], (0.694, 0.813),
     [0.0829, 0.4294, 0.3954, 0.2774], (-0.144, 1.152), PR_YTICKS, False),
    (PR500, PR500_MARKS, 'PR- 500', (0.81, 0.889), ['CKO3', 'CCaO3', 'CaO3Si'], (0.684, 0.803),
     [0.0829, 0.1520, 0.3954, 0.2774], (-0.144, 1.152), PR_YTICKS, True),
    (CP300, CP300_MARKS, 'CP-300', (0.837, 0.870), [], None,
     [0.5950, 0.7033, 0.3954, 0.2791], (-0.146, 0.799), CP_YTICKS, False),
    (CP400, CP400_MARKS, 'CP- 400', (0.82, 0.879), ['O7P2Si', 'CKO3', 'MgO3Si', 'CCaO3'], (0.719, 0.800),
     [0.5950, 0.4259, 0.3954, 0.2774], (-0.144, 0.796), CP_YTICKS, False),
    (CP500, CP500_MARKS, 'CP-500', (0.847, 0.898), ['O7P2Si', 'CKO3', 'CCaO3', 'K2O4S', 'CCl2O'], (0.749, 0.819),
     [0.5950, 0.1485, 0.3954, 0.2774], (-0.142, 0.792), CP_YTICKS, True),
]

for data, marks, title, tpos, order, lpos, rect, ylim, yticks, bottom in panels:
    ax = fig.add_axes(rect)
    xs = [p[0] for p in data]
    ys = [p[1] for p in data]
    ax.plot(xs, ys, color='black', lw=1.45, zorder=2)

    for key, pts in marks.items():
        st = PHASES[key]
        ax.plot([p[0] for p in pts], [p[1] for p in pts], ls='none', marker=st['marker'],
                color=st['color'], ms=st['ms'], mew=1.7, zorder=3)

    ax.set_xlim(5, 95)
    ax.set_ylim(*ylim)
    ax.set_xticks(XTICKS)
    ax.set_yticks(yticks)
    ax.set_yticklabels(['%.2f' % v for v in yticks])
    ax.tick_params(axis='both', direction='in', length=4.5, width=2.3, labelsize=18, pad=6,
                   top=False, right=False, labelbottom=bottom)
    for sp in ax.spines.values():
        sp.set_linewidth(2.6)

    ax.text(tpos[0], tpos[1], title, transform=ax.transAxes, ha='center', va='center', fontsize=20)

    if order:
        handles = [Line2D([], [], ls='none', marker=PHASES[k]['marker'], color=PHASES[k]['color'],
                          ms=PHASES[k]['lms'], mew=1.2) for k in order]
        labels = [PHASES[k]['label'] for k in order]
        leg = ax.legend(handles, labels, loc='upper left', bbox_to_anchor=lpos, fontsize=11.5,
                        frameon=True, fancybox=False, edgecolor='#c8c8c8', framealpha=1,
                        borderpad=0.6, labelspacing=1.0, handlelength=0.3, handletextpad=0.3,
                        borderaxespad=0)
        leg.get_frame().set_linewidth(1.0)

# axis titles and panel letters
fig.text(0.0202, 0.5773, 'Intensity (a.u)', rotation=90, ha='center', va='center', fontsize=22.5)
fig.text(0.5332, 0.5835, 'Intensity (a.u)', rotation=90, ha='center', va='center', fontsize=22.5)
fig.text(0.2806, 0.0824, '2\u03b8 (degrees)', ha='center', va='center', fontsize=22.5)
fig.text(0.7927, 0.0877, '2\u03b8 (degrees)', ha='center', va='center', fontsize=22.5)
fig.text(0.2443, 0.0243, r'($\mathbf{a}$)', ha='center', va='center', fontsize=22, family='Liberation Serif')
fig.text(0.7590, 0.0243, r'($\mathbf{b}$)', ha='center', va='center', fontsize=22, family='Liberation Serif')

fig.savefig('out.png', dpi=DPI)
